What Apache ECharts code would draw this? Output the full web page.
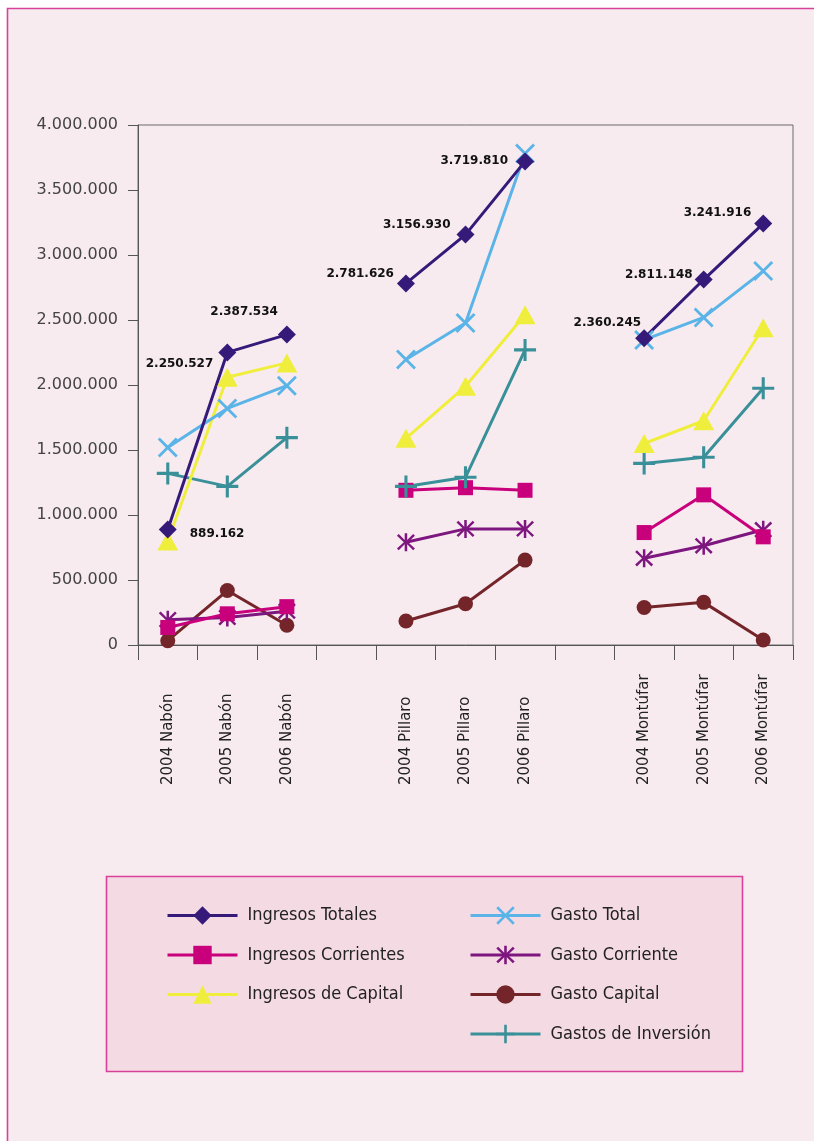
<!DOCTYPE html>
<html>
<head>
<meta charset="utf-8">
<script src="https://cdn.jsdelivr.net/npm/echarts@6/dist/echarts.min.js"></script>
<style>
html,body{margin:0;padding:0;background:#ffffff;}
#chart{width:814px;height:1141px;}
</style>
</head>
<body>
<div id="chart"></div>
<script>
var categories = ['2004 Nabón','2005 Nabón','2006 Nabón',' ','2004 Pillaro','2005 Pillaro','2006 Pillaro','  ','2004 Montúfar','2005 Montúfar','2006 Montúfar'];
var yTicks = [0, 500000, 1000000, 1500000, 2000000, 2500000, 3000000, 3500000, 4000000];

var ingresosTotales     = [889162, 2250527, 2387534, null, 2781626, 3156930, 3719810, null, 2360245, 2811148, 3241916];
var ingresosCorrientes  = [135000, 240000, 295000, null, 1190000, 1210000, 1190000, null, 865000, 1155000, 832000];
var ingresosCapital     = [800000, 2060000, 2170000, null, 1590000, 1990000, 2540000, null, 1550000, 1725000, 2440000];
var gastoTotal          = [1520000, 1820000, 1995000, null, 2196000, 2477000, 3780000, null, 2347000, 2520000, 2876000];
var gastoCorriente      = [195000, 212000, 260000, null, 791000, 893000, 893000, null, 667000, 763000, 887000];
var gastoCapital        = [33000, 419000, 152000, null, 185000, 317000, 653000, null, 289000, 328000, 39000];
var gastosInversion     = [1320000, 1220000, 1595000, null, 1220000, 1290000, 2270000, null, 1397000, 1444000, 1975000];

function fmt(v){ return String(Math.round(v)).replace(/\B(?=(\d{3})+(?!\d))/g,'.'); }

var X_PATH = 'path://M0,2 L2,0 L10,8 L18,0 L20,2 L12,10 L20,18 L18,20 L10,12 L2,20 L0,18 L8,10 Z';
var PLUS_PATH = 'path://M8.6,0 L11.4,0 L11.4,8.6 L20,8.6 L20,11.4 L11.4,11.4 L11.4,20 L8.6,20 L8.6,11.4 L0,11.4 L0,8.6 L8.6,8.6 Z';
var AST_PATH = 'path://M0,3 L2,1 L8.6,7.6 L8.6,0 L11.4,0 L11.4,7.6 L18,1 L20,3 L12.4,10 L20,17 L18,19 L11.4,12.4 L11.4,20 L8.6,20 L8.6,12.4 L2,19 L0,17 L7.6,10 Z';

var labelCfg = [
  {position:'right', distance:13, offset:[0,4]},
  {position:'left', distance:5, offset:[0,11]},
  {position:'left', distance:0, offset:[0,-23]},
  null,
  {position:'left', distance:3, offset:[0,-10]},
  {position:'left', distance:6, offset:[0,-10]},
  {position:'left', distance:8, offset:[0,-1]},
  null,
  {position:'left', distance:0, offset:[6,-15]},
  {position:'left', distance:2, offset:[0,-5]},
  {position:'left', distance:3, offset:[0,-11]}
];
var itData = ingresosTotales.map(function(v,i){
  if(v===null) return null;
  var c = labelCfg[i];
  return {value:v, label:{show:true, position:c.position, distance:c.distance, offset:c.offset}};
});

var legendFont = {fontFamily:'Liberation Sans Narrow, DejaVu Sans Condensed, sans-serif', fontSize:18, color:'#222', padding:[0,0,0,5], lineHeight:23};

var chart = echarts.init(document.getElementById('chart'));
var lw = 3;
var option = {
  backgroundColor:'#ffffff',
  animation:false,
  graphic:[
    {type:'rect', z:-100, shape:{x:7.5, y:8.5, width:830, height:1150}, style:{fill:'#f8ebf0', stroke:'#d8409a', lineWidth:1.6}},
    {type:'rect', z:-99, shape:{x:106.5, y:876.5, width:636, height:195}, style:{fill:'#f4dae3', stroke:'#d8409a', lineWidth:1.6}}
  ],
  grid:{left:138, top:125, width:655, height:520, show:true, borderColor:'#6a6a6a', borderWidth:1, backgroundColor:'transparent', containLabel:false},
  legend:[
    {
      data:['Ingresos Totales','Ingresos Corrientes','Ingresos de Capital'],
      orient:'vertical', left:166, top:904, padding:0, itemWidth:70, itemHeight:23, itemGap:16.5,
      lineStyle:{width:3}, textStyle:legendFont, selectedMode:false
    },
    {
      data:['Gasto Total','Gasto Corriente','Gasto Capital','Gastos de Inversión'],
      orient:'vertical', left:469, top:904, padding:0, itemWidth:70, itemHeight:23, itemGap:16.5,
      lineStyle:{width:3}, textStyle:legendFont, selectedMode:false
    }
  ],
  xAxis:{
    type:'category', data:categories, boundaryGap:true,
    axisLine:{lineStyle:{color:'#555', width:1}},
    axisTick:{show:true, interval:0, length:15, lineStyle:{color:'#555'}},
    axisLabel:{interval:0, rotate:90, margin:140, align:'left', verticalAlign:'middle',
      fontFamily:'DejaVu Sans', fontSize:15, color:'#222'},
    splitLine:{show:false}
  },
  yAxis:{
    type:'value', min:0, max:4000000, interval:500000,
    axisLine:{show:true, lineStyle:{color:'#555', width:1}},
    axisTick:{show:true, length:10, lineStyle:{color:'#555'}},
    axisLabel:{margin:20, fontFamily:'DejaVu Sans', fontSize:16, color:'#444', formatter:function(v){return fmt(v);}},
    splitLine:{show:false}
  },
  series:[
    {name:'Gasto Capital', type:'line', data:gastoCapital, symbol:'circle', symbolSize:15,
      itemStyle:{color:'#74252a'}, lineStyle:{color:'#74252a', width:lw}},
    {name:'Gasto Corriente', type:'line', data:gastoCorriente, symbol:AST_PATH, symbolSize:18,
      itemStyle:{color:'#7e167f'}, lineStyle:{color:'#7e167f', width:lw}},
    {name:'Ingresos Corrientes', type:'line', data:ingresosCorrientes, symbol:'rect', symbolSize:15,
      itemStyle:{color:'#c8007c'}, lineStyle:{color:'#c8007c', width:lw}},
    {name:'Gastos de Inversión', type:'line', data:gastosInversion, symbol:PLUS_PATH, symbolSize:22,
      itemStyle:{color:'#3a9098'}, lineStyle:{color:'#3a9098', width:lw}},
    {name:'Ingresos de Capital', type:'line', data:ingresosCapital, symbol:'triangle', symbolSize:[21,19],
      itemStyle:{color:'#f0ee3c'}, lineStyle:{color:'#f0ee3c', width:lw}},
    {name:'Gasto Total', type:'line', data:gastoTotal, symbol:X_PATH, symbolSize:20,
      itemStyle:{color:'#5bb4e8'}, lineStyle:{color:'#5bb4e8', width:lw}},
    {name:'Ingresos Totales', type:'line', data:itData, symbol:'diamond', symbolSize:18,
      itemStyle:{color:'#361a7a'}, lineStyle:{color:'#361a7a', width:lw},
      label:{show:false, formatter:function(p){return fmt(p.value);}, fontFamily:'DejaVu Sans', fontWeight:'bold', fontSize:12, color:'#111'}}
  ]
};
chart.setOption(option);
</script>
</body>
</html>
